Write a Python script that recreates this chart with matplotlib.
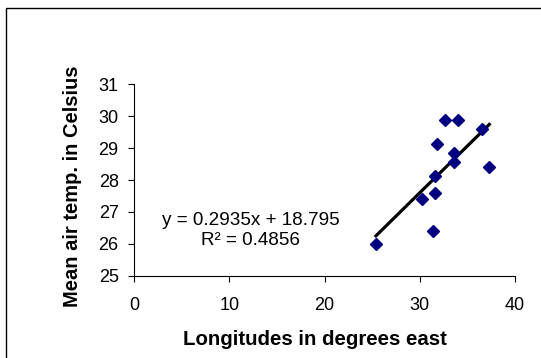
import matplotlib
matplotlib.use("Agg")
import matplotlib.pyplot as plt
from matplotlib.patches import Rectangle

plt.rcParams["font.family"] = ["Liberation Sans", "DejaVu Sans"]

# data
longitude = [25.4, 31.4, 30.25, 31.65, 31.6, 37.3, 33.6, 33.55, 31.8, 32.6, 34.0, 36.5]
temperature = [26.0, 26.4, 27.4, 27.58, 28.13, 28.42, 28.57, 28.86, 29.13, 29.88, 29.88, 29.61]

slope = 0.2935
intercept = 18.795
r_squared = 0.4856

x_ticks = [0, 10, 20, 30, 40]
y_ticks = [25, 26, 27, 28, 29, 30, 31]

fig = plt.figure(figsize=(5.41, 3.58), dpi=100)
ax = fig.add_axes([0.2477, 0.2299, 0.952 - 0.2477, 0.7645 - 0.2299])

ax.plot(longitude, temperature, linestyle="none", marker="D", markersize=6,
        color="#000080", zorder=3)

x0, x1 = min(longitude), max(longitude)
ax.plot([x0, x1], [slope * x0 + intercept, slope * x1 + intercept],
        color="black", linewidth=2.3, zorder=2)

ax.set_xlim(0, 40)
ax.set_ylim(25, 31)
ax.set_xticks(x_ticks)
ax.set_yticks(y_ticks)
ax.tick_params(direction="out", length=4, width=0.8, labelsize=13)
ax.tick_params(axis="x", pad=11)
ax.tick_params(axis="y", pad=7)
for side in ("top", "right"):
    ax.spines[side].set_visible(False)

ax.set_xlabel("Longitudes in degrees east", fontsize=14.7, fontweight="bold")
ax.set_ylabel("Mean air temp. in Celsius", fontsize=14.5, fontweight="bold")
ax.xaxis.set_label_coords(0.474, -0.285)
ax.yaxis.set_label_coords(-0.137, 0.466)

ax.text(0.306, 0.235, f"y = {slope}x + {intercept}\nR² = {r_squared}",
        transform=ax.transAxes, ha="center", va="center", fontsize=13.6,
        linespacing=1.25)

# outer chart border
fig.patches.append(Rectangle((5.5 / 541, -0.05), 1.1, 1 - 8 / 358 + 0.05,
                             transform=fig.transFigure, fill=False,
                             edgecolor="black", linewidth=1.0))

fig.savefig("out.png", dpi=100)
